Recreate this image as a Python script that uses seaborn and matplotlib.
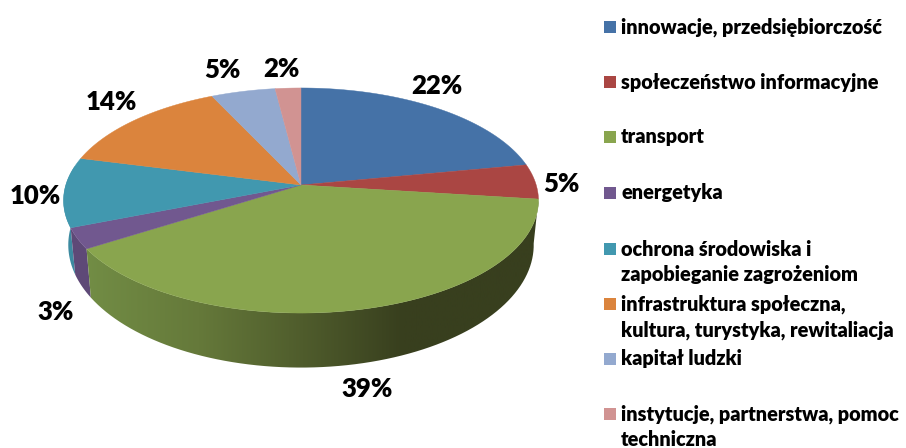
import numpy as np
import matplotlib
matplotlib.use('Agg')
import matplotlib.pyplot as plt
from matplotlib.colors import LinearSegmentedColormap
from matplotlib.patches import Polygon, Rectangle
import seaborn as sns

# ========== Data ==========

categories = ['innowacje, przedsiębiorczość', 'społeczeństwo informacyjne', 'transport', 'energetyka',
              'ochrona środowiska i\nzapobieganie zagrożeniom',
              'infrastruktura społeczna,\nkultura, turystyka, rewitaliacja',
              'kapitał ludzki', 'instytucje, partnerstwa, pomoc\ntechniczna']
values = [22, 5, 39, 3, 10, 14, 5, 2]
top_colors = ['#4572A7', '#AA4643', '#89A54E', '#71588F', '#4198AF', '#DB843D', '#93A9CF', '#D19392']
side_colors = [None, None, None, '#5E4977', '#3C8AA0', None, None, None]
pct_pos = [(437, 86), (561, 184), (367, 389), (56, 312), (35, 196), (111, 102), (222, 70), (281, 69)]
legend_y = [27, 82, 137, 193, 249, 304, 359, 414]

FONT = 'Lato'


# ========== Functions ==========

def project(t):
    """ map pie angles (deg) to the tilted top face, in pixels """
    u, v = np.cos(np.radians(t)), np.sin(np.radians(t))
    w = 1 + 0.1378 * v
    return 301 + 235.2 * u / w, 185 - 110.4 * v / w


def lower(x, y):
    """ the same rim points on the bottom of the disc """
    return 301 + (x - 301) * 0.98, 228 + 1.09 * (y - 185)


def wall(t1, t2):
    """ outline of the side wall between two angles """
    t = np.linspace(t1, t2, 80)
    x, y = project(t)
    xb, yb = lower(x, y)
    return np.column_stack([np.r_[x, xb[::-1]], np.r_[y, yb[::-1]]])


# ========== Figure ==========

sns.set_theme(style='white')
plt.rcParams['font.family'] = [FONT, 'DejaVu Sans']

fig = plt.figure(figsize=(9.06, 4.48), dpi=100)
ax = fig.add_axes([0, 0, 1, 1])
ax.set_xlim(0, 906)
ax.set_ylim(448, 0)
ax.axis('off')

# slice limits, clockwise from twelve o'clock
edges = 90 - 3.6 * np.cumsum([0] + values)

# side walls, back to front
ax.add_patch(Polygon(wall(edges[4], -190), color=side_colors[4], lw=0, zorder=1))
ax.add_patch(Polygon(wall(edges[3], edges[4]), color=side_colors[3], lw=0, zorder=2))

green_wall = Polygon(wall(edges[2], edges[3]), fc='none', lw=0, zorder=3)
ax.add_patch(green_wall)
shade = LinearSegmentedColormap.from_list('shade', [(0, '#728D45'), (0.25, '#65793A'), (0.48, '#4F5C2C'), (0.70, '#383F1E'), (1, '#383F1E')])
img = ax.imshow(np.linspace(0, 1, 256)[None, :], cmap=shade, extent=(85, 540, 448, 0), aspect='auto', zorder=3)
img.set_clip_path(green_wall)
ax.set_xlim(0, 906)
ax.set_ylim(448, 0)

# top face
for i, color in enumerate(top_colors):
    x, y = project(np.linspace(edges[i], edges[i + 1], 120))
    ax.add_patch(Polygon(np.column_stack([np.r_[301, x], np.r_[185, y]]), fc=color, ec=color, lw=0.3, zorder=4))

# percent labels
for val, (px, py) in zip(values, pct_pos):
    ax.text(px, py, f'{val}%', fontsize=18.5, fontweight='heavy', color='black', ha='center', va='center', zorder=5)

# legend
for name, color, ly in zip(categories, top_colors, legend_y):
    ax.add_patch(Rectangle((604, ly - 6), 12, 12, fc=color, lw=0))
    for j, line in enumerate(name.split('\n')):
        ax.text(621, ly + j * 26, line, fontsize=14.3, fontweight='heavy', color='black', ha='left', va='center')

fig.savefig('out.png', dpi=100, facecolor='white')
